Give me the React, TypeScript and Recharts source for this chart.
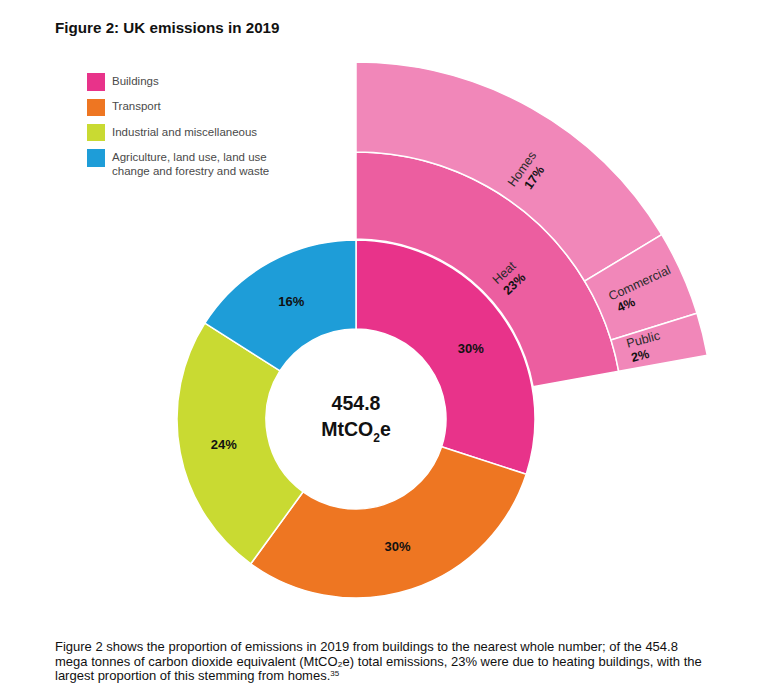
import React from 'react';
import { PieChart, Pie, Cell } from 'recharts';

// inner ring: share of total 2019 emissions (%)
const sectors = ['Buildings', 'Transport', 'Industrial and miscellaneous', 'Agriculture, land use, land use change and forestry and waste'];
const sectorValues = [30, 30, 24, 16];
const sectorColors = ['#E8338A', '#EE7622', '#C9DA32', '#1E9DD8'];

// middle ring: heat within buildings
const heatNames = ['Heat'];
const heatValues = [23];

// outer ring: heat split by building type
const heatSplitNames = ['Homes', 'Commercial', 'Public'];
const heatSplitValues = [17, 4, 2];

const TOTAL = '454.8';

const CX = 356;
const CY = 419;
const HEAT_END = 10.3; // end angle of the heat wedges

const sectorData = sectors.map((name, i) => ({ name, value: sectorValues[i] }));
const heatData = heatNames.map((name, i) => ({ name, value: heatValues[i] }));
const splitData = heatSplitNames.map((name, i) => ({ name, value: heatSplitValues[i] }));

const RAD = Math.PI / 180;
const FONT = '"Liberation Sans", Arial, Helvetica, sans-serif';

const innerShift = [4.5, 0, 0, 0];

const renderInnerLabel = (p: any) => {
  const theta = 90 - p.midAngle + innerShift[p.index];
  const r = (p.innerRadius + p.outerRadius) / 2;
  const x = p.cx + r * Math.sin(theta * RAD);
  const y = p.cy - r * Math.cos(theta * RAD);
  return (
    <text x={x} y={y} textAnchor="middle" dominantBaseline="central" fontFamily={FONT} fontSize={13} fontWeight="bold" fill="#111">
      {p.value}%
    </text>
  );
};

type LabelStyle = { shift: number; r: number; anchor: 'middle' | 'start'; nameY: number; pctX: number; pctY: number };

const makeRingLabel = (styles: LabelStyle[]) => (p: any) => {
  const s = styles[p.index];
  const theta = 90 - p.midAngle + s.shift;
  const x = p.cx + s.r * Math.sin(theta * RAD);
  const y = p.cy - s.r * Math.cos(theta * RAD);
  return (
    <g transform={`translate(${x},${y}) rotate(${theta - 90})`} fontFamily={FONT} fontSize={12.5}>
      <text x={0} y={s.nameY} textAnchor={s.anchor} fill="#2a2a2a">{p.name}</text>
      <text x={s.pctX} y={s.pctY} textAnchor={s.anchor} fontWeight="bold" fill="#111">{p.value}%</text>
    </g>
  );
};

const heatLabel = makeRingLabel([{ shift: 7.5, r: 208, anchor: 'middle', nameY: -3, pctX: 0, pctY: 12 }]);
const splitLabel = makeRingLabel([
  { shift: 5.5, r: 300, anchor: 'middle', nameY: -3, pctX: 0, pctY: 12 },
  { shift: -0.7, r: 281, anchor: 'start', nameY: 0, pctX: 3, pctY: 14 },
  { shift: -0.9, r: 281, anchor: 'start', nameY: 0, pctX: 1, pctY: 15 },
]);

export default function App() {
  return (
    <div style={{ position: 'absolute', left: 0, top: 0, width: 774, height: 698, background: '#fff', fontFamily: FONT, overflow: 'hidden' }}>
      <div style={{ position: 'absolute', left: 55, top: 19.5, fontSize: 15.2, lineHeight: '15px', fontWeight: 'bold', color: '#111', whiteSpace: 'nowrap' }}>
        Figure 2: UK emissions in 2019
      </div>

      <PieChart width={774} height={698} margin={{ top: 0, right: 0, bottom: 0, left: 0 }} style={{ position: 'absolute', left: 0, top: 0 }}>
        <Pie
          data={sectorData}
          dataKey="value"
          cx={CX}
          cy={CY}
          innerRadius={90}
          outerRadius={179}
          startAngle={90}
          endAngle={-270}
          stroke="#fff"
          strokeWidth={1.5}
          label={renderInnerLabel}
          labelLine={false}
          isAnimationActive={false}
        >
          {sectorData.map((d, i) => (
            <Cell key={d.name} fill={sectorColors[i]} />
          ))}
        </Pie>
        <Pie
          data={heatData}
          dataKey="value"
          cx={CX}
          cy={CY}
          innerRadius={180}
          outerRadius={267}
          startAngle={90}
          endAngle={HEAT_END}
          stroke="#fff"
          strokeWidth={1.5}
          fill="#EC5EA0"
          label={heatLabel}
          labelLine={false}
          isAnimationActive={false}
        />
        <Pie
          data={splitData}
          dataKey="value"
          cx={CX}
          cy={CY}
          innerRadius={267}
          outerRadius={357}
          startAngle={90}
          endAngle={HEAT_END}
          stroke="#fff"
          strokeWidth={1.5}
          fill="#F187B9"
          label={splitLabel}
          labelLine={false}
          isAnimationActive={false}
        />
      </PieChart>

      {/* legend */}
      {sectors.map((name, i) => (
        <div key={name} style={{ position: 'absolute', left: 87, top: 73.3 + i * 25.3, width: 17.5, height: 17.5, background: sectorColors[i] }} />
      ))}
      {sectors.map((name, i) => (
        <div key={name + '-t'} style={{ position: 'absolute', left: 112, top: 75 + i * 25.3, width: 175, fontSize: 11.5, lineHeight: '13.7px', color: '#4a4a4a' }}>
          {name}
        </div>
      ))}

      {/* total in the middle */}
      <div style={{ position: 'absolute', left: CX - 60, top: 390, width: 120, textAlign: 'center', fontSize: 19.5, lineHeight: '26px', fontWeight: 'bold', color: '#111' }}>
        <div>{TOTAL}</div>
        <div>
          MtCO<span style={{ fontSize: 12, position: 'relative', top: 6 }}>2</span>e
        </div>
      </div>

      <div style={{ position: 'absolute', left: 55, top: 640, width: 700, fontSize: 13, lineHeight: '14.5px', color: '#111' }}>
        <div style={{ whiteSpace: 'nowrap' }}>Figure 2 shows the proportion of emissions in 2019 from buildings to the nearest whole number; of the 454.8</div>
        <div style={{ whiteSpace: 'nowrap' }}>mega tonnes of carbon dioxide equivalent (MtCO₂e) total emissions, 23% were due to heating buildings, with the</div>
        <div style={{ whiteSpace: 'nowrap' }}>
          largest proportion of this stemming from homes.<sup style={{ fontSize: 8, verticalAlign: 'top', lineHeight: '10px' }}>35</sup>
        </div>
      </div>
    </div>
  );
}
